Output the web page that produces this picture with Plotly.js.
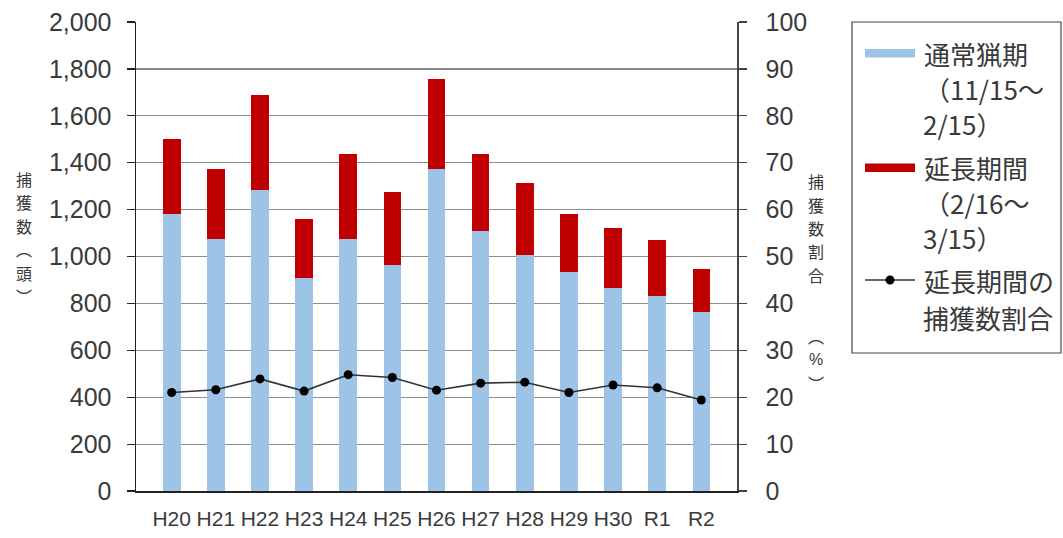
<!DOCTYPE html>
<html>
<head>
<meta charset="utf-8">
<script src="https://cdn.plot.ly/plotly-3.0.1.min.js"></script>
<style>
  html, body { margin: 0; padding: 0; background: #fff; }
  #chart { width: 1063px; height: 538px; }
</style>
</head>
<body>
<div id="chart"></div>
<script>
// Fiscal years (Heisei / Reiwa)
const categories = ['H20', 'H21', 'H22', 'H23', 'H24', 'H25', 'H26', 'H27', 'H28', 'H29', 'H30', 'R1', 'R2'];
// Catch during the regular hunting season (11/15-2/15), head
const regularSeason = [1182, 1076, 1283, 910, 1076, 965, 1373, 1107, 1008, 934, 867, 832, 762];
// Catch during the extended period (2/16-3/15), head
const extendedPeriod = [318, 297, 404, 250, 360, 311, 383, 329, 305, 247, 256, 237, 185];
// Share of the total catch taken in the extended period, %
const extendedShare = [21.0, 21.6, 23.9, 21.3, 24.8, 24.2, 21.5, 23.0, 23.2, 21.0, 22.6, 22.0, 19.4];

const leftTicks = [0, 200, 400, 600, 800, 1000, 1200, 1400, 1600, 1800, 2000];
const rightTicks = [0, 10, 20, 30, 40, 50, 60, 70, 80, 90, 100];

const legendLabels = {
  regular: ['通常猟期', '（11/15～', '2/15）'],
  extended: ['延長期間', '（2/16～', '3/15）'],
  share: ['延長期間の', '捕獲数割合']
};
// vertical axis titles, written top to bottom
const leftTitle = '捕獲数︵頭︶';
const rightTitle = ['捕獲数割合', '︵%︶'];

const BLUE = '#9dc3e6';
const RED = '#c00000';
const TEXT = '#3a3a3a';
const CJK = '"Noto Sans CJK JP", "Noto Sans CJK SC", sans-serif';
const NUM = '"Liberation Sans", Arial, sans-serif';

// plot-area geometry in page pixels
const W = 1063, H = 538;
const M = { l: 136, r: W - 737, t: 22, b: H - 491 };
const plotW = W - M.l - M.r, plotH = H - M.t - M.b;
const px = x => (x - M.l) / plotW;          // page x -> paper x
const py = y => (H - M.b - y) / plotH;      // page y -> paper y

const traces = [
  {
    type: 'bar', name: '通常猟期（11/15～2/15）',
    x: categories, y: regularSeason,
    marker: { color: BLUE }, width: 0.4, hoverinfo: 'x+y'
  },
  {
    type: 'bar', name: '延長期間（2/16～3/15）',
    x: categories, y: extendedPeriod,
    marker: { color: RED }, width: 0.4, hoverinfo: 'x+y'
  },
  {
    type: 'scatter', mode: 'lines+markers', name: '延長期間の捕獲数割合',
    x: categories, y: extendedShare, yaxis: 'y2',
    line: { color: '#333', width: 1.6 },
    marker: { color: '#000', size: 9 }
  }
];

const shapes = [];
const annotations = [];

// legend frame
shapes.push({
  type: 'rect', xref: 'paper', yref: 'paper',
  x0: px(852), x1: px(1061), y0: py(22), y1: py(353),
  line: { color: '#444', width: 1.2 }, fillcolor: 'rgba(0,0,0,0)'
});
// legend swatches
shapes.push({
  type: 'rect', xref: 'paper', yref: 'paper',
  x0: px(865), x1: px(915), y0: py(49), y1: py(57.5),
  line: { width: 0 }, fillcolor: BLUE
});
shapes.push({
  type: 'rect', xref: 'paper', yref: 'paper',
  x0: px(865), x1: px(915), y0: py(163.5), y1: py(172),
  line: { width: 0 }, fillcolor: RED
});
shapes.push({
  type: 'line', xref: 'paper', yref: 'paper',
  x0: px(865), x1: px(915), y0: py(280), y1: py(280),
  line: { color: '#333', width: 1.6 }
});
shapes.push({
  type: 'circle', xref: 'paper', yref: 'paper',
  x0: px(885.5), x1: px(894.5), y0: py(275.5), y1: py(284.5),
  line: { width: 0 }, fillcolor: '#000'
});

function legendText(lines, ys, xs) {
  lines.forEach((t, i) => {
    annotations.push({
      text: t, xref: 'paper', yref: 'paper',
      x: px(xs[i]), y: py(ys[i]), xanchor: 'left', yanchor: 'middle',
      showarrow: false, font: { family: CJK, size: 26, color: TEXT }
    });
  });
}
legendText(legendLabels.regular, [53, 88, 123], [922, 922, 921]);
legendText(legendLabels.extended, [168, 203, 238], [922, 922, 921]);
legendText(legendLabels.share, [280, 317], [922, 921]);

// stacked axis titles: one glyph per row, rows a fixed pitch apart
function verticalTitle(text, xPix, yFirstPix, pitch, size) {
  Array.from(text).forEach((c, i) => {
    annotations.push({
      text: c, xref: 'paper', yref: 'paper',
      x: px(xPix), y: py(yFirstPix + i * pitch), xanchor: 'center', yanchor: 'middle',
      showarrow: false,
      font: { family: c === '%' ? NUM : CJK, size: size, color: TEXT }
    });
  });
}
verticalTitle(leftTitle, 24, 178.5, 23.5, 16);
verticalTitle(rightTitle[0], 816, 181, 23.5, 16);
verticalTitle(rightTitle[1], 816, 336, 23.5, 16);

const layout = {
  width: W, height: H,
  margin: M,
  paper_bgcolor: '#fff', plot_bgcolor: '#fff',
  showlegend: false,
  barmode: 'stack',
  bargap: 0.6,
  xaxis: {
    type: 'category',
    showline: true, linecolor: '#222', linewidth: 1.5,
    ticks: '', showgrid: false, zeroline: false,
    tickangle: 0,
    tickfont: { family: NUM, size: 21, color: TEXT },
    ticklabelstandoff: 8
  },
  yaxis: {
    range: [0, 2000], tickvals: leftTicks, tickformat: ',d',
    showline: true, linecolor: '#222', linewidth: 1.5,
    ticks: 'outside', ticklen: 8, tickcolor: '#222', tickwidth: 1.2,
    showgrid: true, gridcolor: '#8c8c8c', gridwidth: 1.2, zeroline: false,
    tickfont: { family: NUM, size: 25, color: TEXT },
    ticklabelstandoff: 10,
    fixedrange: true
  },
  yaxis2: {
    overlaying: 'y', side: 'right',
    range: [0, 100], tickvals: rightTicks,
    showline: true, linecolor: '#444', linewidth: 1.5,
    ticks: 'outside', ticklen: 8, tickcolor: '#444', tickwidth: 1.2,
    showgrid: false, zeroline: false,
    tickfont: { family: NUM, size: 25, color: TEXT },
    ticklabelstandoff: 14,
    fixedrange: true
  },
  shapes: shapes,
  annotations: annotations
};

Plotly.newPlot('chart', traces, layout, { staticPlot: true });
</script>
</body>
</html>
